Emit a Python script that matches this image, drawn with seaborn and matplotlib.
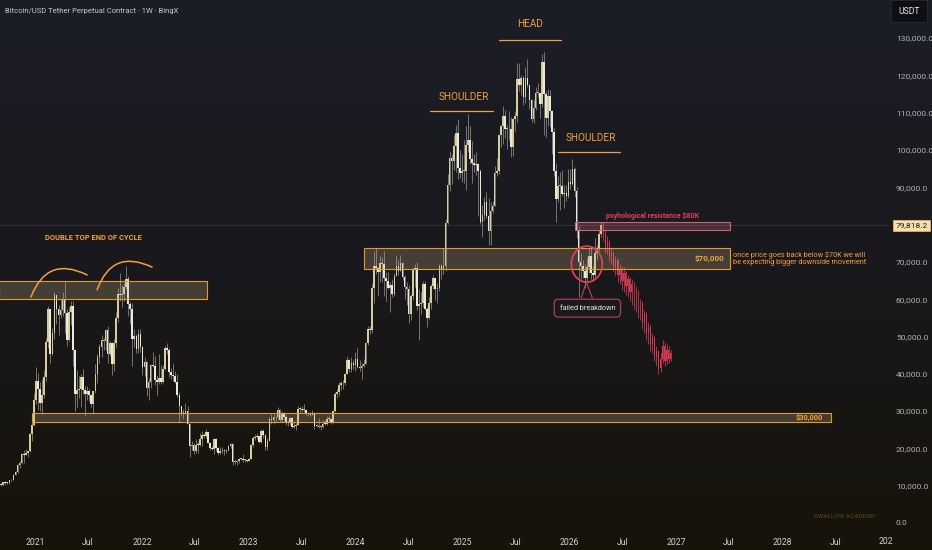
import numpy as np
import pandas as pd
import matplotlib
matplotlib.use("Agg")
import matplotlib.pyplot as plt
import matplotlib.dates as mdates
import matplotlib.transforms as mtransforms
from matplotlib.patches import Rectangle, Ellipse
from matplotlib.colors import LinearSegmentedColormap
from matplotlib.ticker import FuncFormatter
import seaborn as sns

# ──────────────────────────────────────────────
# DATA — weekly BTCUSDT candles, values in thousand USDT
# ──────────────────────────────────────────────

first_week = "2020-09-07"
first_open = 10.25

close_2020 = [10.3, 11.0, 10.7, 10.7, 11.4, 11.5, 13.0, 13.8, 15.5, 16.0, 18.4, 18.2, 18.8, 19.2, 23.8, 26.3, 33.0]
high_2020 = [10.6, 11.1, 11.2, 10.9, 11.5, 11.7, 13.2, 14.0, 15.9, 16.5, 18.8, 19.5, 19.9, 19.4, 24.2, 28.4, 34.8]
low_2020 = [9.9, 10.2, 10.1, 10.5, 10.5, 11.2, 11.4, 12.8, 13.3, 14.8, 15.8, 16.2, 18.1, 17.6, 19.0, 22.0, 26.0]

close_2021 = [38.2, 36.0, 32.3, 34.3, 39.2, 48.6, 57.5, 45.2, 50.9, 61.2, 57.4, 55.8, 57.1, 60.0, 56.2, 49.1,
              56.6, 58.2, 46.4, 34.7, 35.7, 35.8, 39.1, 35.6, 34.7, 35.3, 34.3, 31.8, 35.4, 39.9, 44.6, 47.1,
              49.0, 48.9, 51.8, 45.2, 48.3, 42.7, 48.2, 54.9, 61.5, 61.0, 61.3, 63.3, 65.5, 58.6, 57.3, 49.4,
              50.1, 46.7, 50.8, 47.3]
high_2021 = [41.9, 40.1, 37.8, 38.6, 40.9, 49.7, 58.3, 57.5, 52.4, 61.8, 61.2, 58.4, 60.2, 61.8, 64.9, 57.5,
             57.9, 59.6, 59.5, 46.6, 40.9, 39.5, 39.9, 41.3, 36.7, 36.6, 35.9, 34.6, 35.5, 42.6, 45.3, 48.1,
             50.5, 49.6, 51.9, 52.9, 48.8, 48.4, 49.3, 56.5, 62.9, 67.0, 63.7, 64.3, 69.0, 66.3, 59.3, 59.1,
             51.9, 50.7, 51.9, 52.1]
low_2021 = [32.0, 30.3, 30.1, 29.3, 33.4, 38.0, 47.0, 43.0, 45.0, 49.3, 53.3, 50.4, 54.9, 55.5, 50.9, 47.5,
            48.8, 53.0, 42.0, 30.0, 31.0, 33.4, 31.1, 34.7, 28.8, 33.0, 32.7, 31.1, 29.3, 34.9, 37.5, 42.8,
            44.4, 46.4, 46.5, 42.8, 44.7, 39.6, 40.8, 47.1, 53.9, 59.6, 58.0, 59.4, 62.8, 55.6, 53.3, 42.0,
            47.3, 45.6, 45.6, 45.8]

close_2022 = [41.9, 43.1, 36.3, 37.9, 42.4, 42.2, 38.4, 37.7, 38.8, 37.8, 41.3, 46.8, 46.4, 40.4, 39.7, 39.5,
              37.7, 34.3, 31.3, 29.4, 29.5, 29.9, 26.6, 20.6, 21.0, 19.3, 20.9, 20.8, 22.6, 23.6, 23.2, 24.4,
              21.5, 20.1, 19.8, 22.4, 20.1, 18.8, 19.3, 19.4, 19.2, 19.6, 20.6, 21.3, 16.3, 16.3, 16.5, 17.1,
              17.1, 16.8, 16.8, 16.6]
high_2022 = [47.5, 44.4, 43.5, 38.9, 42.7, 45.8, 44.7, 39.8, 45.4, 42.3, 42.3, 47.5, 48.2, 47.0, 41.5, 42.9,
             40.8, 40.0, 35.0, 31.4, 30.6, 32.3, 31.3, 26.9, 22.0, 21.5, 22.4, 21.6, 24.2, 24.6, 24.2, 25.2,
             24.4, 21.8, 20.6, 22.8, 22.7, 20.4, 20.4, 20.4, 19.9, 19.7, 21.0, 21.5, 21.4, 17.2, 17.0, 17.4,
             17.4, 18.4, 17.1, 16.9]
low_2022 = [39.6, 39.5, 34.0, 33.0, 36.3, 41.7, 37.0, 34.3, 37.2, 37.2, 37.6, 40.9, 45.2, 39.2, 38.5, 38.2,
            37.6, 33.7, 26.7, 28.6, 28.0, 29.2, 26.5, 17.6, 19.6, 18.6, 18.9, 18.9, 20.7, 20.7, 22.7, 22.7,
            21.4, 19.6, 19.5, 18.5, 19.3, 18.1, 18.5, 18.9, 18.2, 18.9, 19.2, 20.1, 15.6, 15.8, 15.5, 16.1,
            16.8, 16.3, 16.4, 16.4]

close_2023 = [17.2, 20.9, 22.7, 23.0, 23.3, 21.8, 24.6, 23.5, 20.5, 22.0, 28.0, 27.5, 28.5, 28.3, 30.3, 27.6,
              29.2, 28.4, 26.9, 26.7, 28.1, 25.8, 25.9, 26.3, 30.5, 30.6, 30.2, 30.3, 29.2, 29.3, 29.0, 29.3,
              26.1, 26.0, 25.8, 25.8, 26.5, 26.5, 27.9, 27.9, 27.0, 30.0, 34.5, 35.0, 37.1, 37.4, 37.5, 39.9,
              43.8, 41.3, 43.0, 42.3]
high_2023 = [17.4, 21.3, 23.3, 23.9, 24.2, 23.4, 25.2, 25.2, 23.9, 22.8, 28.5, 29.2, 29.2, 28.8, 31.0, 30.5,
             30.0, 29.8, 29.0, 27.6, 28.4, 28.4, 27.1, 26.8, 31.4, 31.0, 31.5, 31.8, 30.4, 29.7, 29.7, 30.2,
             29.7, 26.8, 28.1, 26.4, 27.5, 27.5, 28.6, 28.6, 28.0, 30.4, 35.2, 35.9, 37.9, 38.0, 38.4, 40.2,
             44.7, 44.0, 44.4, 43.8]
low_2023 = [16.5, 17.2, 20.4, 22.3, 22.6, 21.5, 21.4, 22.8, 19.6, 19.6, 21.9, 26.6, 26.5, 27.2, 27.9, 27.1,
            27.0, 27.7, 26.2, 26.1, 26.3, 25.4, 25.4, 24.8, 26.3, 29.5, 29.8, 29.7, 29.0, 28.8, 28.6, 29.0,
            25.2, 25.8, 25.4, 24.9, 25.6, 26.4, 26.2, 27.2, 26.6, 26.9, 29.8, 33.4, 34.1, 35.6, 36.0, 37.0,
            39.9, 40.5, 40.6, 41.4]

close_2024 = [43.9, 41.7, 41.6, 42.0, 42.6, 48.3, 52.1, 51.7, 63.1, 68.9, 68.4, 67.2, 69.6, 69.4, 65.7, 64.9,
              63.1, 63.9, 61.5, 66.3, 69.0, 67.5, 69.6, 66.0, 63.2, 62.8, 55.9, 60.8, 68.2, 68.3, 58.1, 58.7,
              59.0, 64.2, 57.3, 54.9, 59.1, 63.6, 65.6, 62.8, 62.9, 69.0, 68.0, 68.8, 80.4, 90.5, 97.9, 97.0,
              101.1, 104.5, 95.2, 93.7, 94.5]
high_2024 = [45.9, 47.0, 43.6, 42.8, 43.9, 48.6, 52.8, 52.9, 64.0, 72.8, 73.8, 68.5, 71.6, 71.3, 72.8, 67.2,
             67.2, 64.7, 65.5, 67.0, 71.9, 70.6, 71.9, 70.0, 66.5, 64.5, 63.8, 61.4, 68.4, 69.4, 70.0, 62.7,
             61.8, 65.0, 64.9, 58.0, 60.6, 64.1, 66.5, 65.7, 64.4, 69.4, 69.5, 73.6, 81.5, 93.5, 99.6, 98.9,
             104.0, 106.6, 108.3, 99.9, 98.9]
low_2024 = [40.8, 41.5, 40.7, 38.5, 41.7, 42.6, 47.7, 50.6, 50.9, 59.0, 66.8, 60.8, 64.5, 64.5, 60.8, 59.6,
            62.8, 56.6, 60.6, 60.8, 66.1, 66.6, 67.5, 65.1, 60.0, 58.4, 53.5, 54.3, 59.7, 63.4, 57.1, 49.1,
            56.1, 58.0, 57.2, 52.6, 54.6, 57.5, 62.7, 59.8, 58.9, 62.1, 65.3, 66.8, 67.5, 80.2, 89.0, 90.8,
            94.6, 94.2, 92.2, 92.5, 91.3]

close_2025 = [94.5, 101.3, 102.6, 97.7, 96.5, 96.1, 96.3, 94.3, 80.7, 82.6, 86.1, 82.3, 78.3, 83.7, 85.1, 93.7,
              94.3, 104.0, 106.5, 109.0, 105.6, 105.7, 105.5, 100.9, 108.4, 109.2, 119.1, 117.3, 119.4, 114.2,
              119.3, 117.5, 113.5, 108.3, 111.2, 115.3, 115.2, 112.2, 123.5, 115.0, 108.7, 114.5, 110.5, 104.7,
              94.4, 86.8, 90.4, 90.4, 88.2, 88.5, 87.8, 91.5]
high_2025 = [102.7, 106.4, 109.6, 106.4, 102.5, 98.8, 99.5, 96.5, 95.0, 85.3, 87.4, 88.8, 87.0, 86.1, 86.4, 95.7,
             97.9, 104.1, 106.7, 111.9, 110.7, 106.8, 110.4, 108.9, 108.5, 110.5, 123.2, 123.2, 120.2, 119.8,
             122.3, 124.5, 117.6, 113.6, 113.4, 116.8, 117.9, 115.4, 125.7, 126.2, 115.9, 116.4, 116.0, 110.8,
             106.0, 96.6, 93.1, 94.2, 94.6, 90.6, 90.5, 94.8]
low_2025 = [91.2, 89.2, 99.5, 96.2, 91.2, 94.1, 93.4, 82.2, 80.1, 76.6, 81.2, 81.7, 74.6, 74.5, 83.1, 85.1,
            92.9, 93.5, 100.7, 101.5, 103.1, 100.4, 102.6, 98.2, 98.3, 105.1, 107.5, 115.7, 114.7, 112.0,
            112.7, 116.8, 110.9, 107.5, 107.3, 110.6, 114.3, 108.6, 111.6, 104.0, 103.5, 106.3, 106.1, 98.9,
            93.0, 80.6, 86.1, 84.0, 87.6, 84.4, 86.4, 87.0]

close_2026 = [91.0, 95.0, 89.0, 78.5, 70.0, 68.8, 67.5, 65.8, 68.5, 71.5, 67.0, 66.5, 72.5, 73.5, 77.5, 79.8182]
high_2026 = [94.8, 97.5, 95.5, 90.0, 79.5, 72.5, 70.5, 69.5, 71.0, 73.5, 74.0, 69.0, 76.5, 74.5, 78.5, 80.6]
low_2026 = [89.5, 90.5, 87.5, 76.5, 60.5, 65.5, 65.8, 63.0, 64.5, 67.0, 65.5, 64.8, 66.0, 70.5, 72.8, 76.8]

# projected path drawn in red after the last real candle
proj_close = [77.5, 74.0, 75.5, 71.5, 72.5, 69.0, 70.5, 66.5, 68.0, 65.0, 67.0, 63.5, 65.5, 62.0, 64.0, 60.5,
              62.0, 57.5, 59.0, 54.0, 56.0, 51.0, 52.5, 48.0, 49.5, 44.5, 46.0, 41.5, 44.0, 47.5, 43.5, 46.5,
              44.0, 45.5]
proj_high = [80.8, 78.5, 77.0, 76.0, 74.0, 73.0, 71.5, 71.0, 69.5, 69.0, 68.5, 67.5, 66.5, 66.0, 65.5, 64.5,
             63.5, 62.5, 60.0, 59.5, 57.0, 56.5, 54.0, 53.0, 51.0, 50.0, 47.5, 46.5, 45.5, 49.0, 48.5, 48.0,
             47.5, 46.5]
proj_low = [75.5, 72.5, 72.0, 70.0, 69.5, 67.5, 66.5, 64.5, 64.0, 62.5, 62.0, 61.0, 60.5, 59.5, 58.5, 57.5,
            56.5, 55.0, 54.5, 52.0, 51.0, 49.0, 48.0, 46.0, 45.5, 43.5, 42.0, 40.0, 40.5, 43.0, 42.0, 42.5,
            43.0, 43.5]

price_ticks = list(range(0, 130001, 10000))

# ──────────────────────────────────────────────
# BUILD FRAMES
# ──────────────────────────────────────────────

closes = np.array(close_2020 + close_2021 + close_2022 + close_2023 + close_2024 + close_2025 + close_2026) * 1000
highs = np.array(high_2020 + high_2021 + high_2022 + high_2023 + high_2024 + high_2025 + high_2026) * 1000
lows = np.array(low_2020 + low_2021 + low_2022 + low_2023 + low_2024 + low_2025 + low_2026) * 1000
opens = np.concatenate([[first_open * 1000], closes[:-1]])
weeks = pd.date_range(first_week, periods=len(closes), freq="7D")
btc = pd.DataFrame({"date": weeks, "open": opens, "high": highs, "low": lows, "close": closes})

p_close = np.array(proj_close) * 1000
p_open = np.concatenate([[closes[-1]], p_close[:-1]])
p_weeks = pd.date_range(weeks[-1] + pd.Timedelta(days=7), periods=len(p_close), freq="7D")
proj = pd.DataFrame({"date": p_weeks, "open": p_open, "high": np.array(proj_high) * 1000,
                     "low": np.array(proj_low) * 1000, "close": p_close})


def d(s):
    return mdates.date2num(pd.Timestamp(s))


# ──────────────────────────────────────────────
# STYLE
# ──────────────────────────────────────────────

sns.set_theme(style="dark", rc={"axes.facecolor": "none", "axes.grid": False,
                                "figure.facecolor": "#18171c"})
plt.rcParams["font.family"] = ["Roboto", "DejaVu Sans"]

ORANGE = "#f2a23c"
BOX_EDGE = "#e39a2e"
BOX_FILL = (0.80, 0.70, 0.52, 0.25)
RED = "#d43c55"
UP_COL = "#d8cc9c"
DOWN_COL = "#ebe8dc"
WICK_COL = "#8e8d88"

fig = plt.figure(figsize=(9.32, 5.5), dpi=100)

# gradient background (navy top -> brownish bottom)
bg = fig.add_axes([0, 0, 1, 1], zorder=0)
grad = np.linspace(0, 1, 256).reshape(-1, 1)
bg_cmap = LinearSegmentedColormap.from_list("bg", ["#1c1e27", "#19181c", "#161309"])
bg.imshow(grad, aspect="auto", cmap=bg_cmap, extent=[0, 1, 0, 1], origin="upper")
bg.axis("off")

ax = fig.add_axes([0, 20 / 550, 889 / 932, 530 / 550], zorder=1)
ax.patch.set_alpha(0)
sns.despine(ax=ax, left=True, bottom=True)


def draw_candles(frame, up_col, down_col, wick_col, width=5.6, z=2):
    x = mdates.date2num(frame["date"])
    up = frame["close"] >= frame["open"]
    ax.vlines(x, frame["low"], frame["high"], color=wick_col, lw=0.55, zorder=z)
    body = (frame["close"] - frame["open"]).abs().clip(lower=250)
    bottom = frame[["open", "close"]].min(axis=1)
    ax.bar(x, body, bottom=bottom, width=width, color=np.where(up, up_col, down_col), lw=0, zorder=z + 0.1)


draw_candles(btc, UP_COL, DOWN_COL, WICK_COL)
draw_candles(proj, RED, RED, RED, width=2.8)

# current price line
ax.axhline(closes[-1], color="white", alpha=0.12, lw=0.6, zorder=1)

# ── zones ────────────────────────────────────
zones = [
    ("2020-09-01", "2022-08-13", 60100, 64900, BOX_FILL, BOX_EDGE),
    ("2020-12-22", "2028-06-13", 27100, 29500, BOX_FILL, BOX_EDGE),
    ("2024-01-30", "2027-07-06", 68100, 73700, BOX_FILL, BOX_EDGE),
    ("2026-01-22", "2027-07-06", 78600, 80700, (0.78, 0.39, 0.47, 0.30), "#c86478"),
]
for start, end, lo, hi, fc, ec in zones:
    ax.add_patch(Rectangle((d(start), lo), d(end) - d(start), hi - lo,
                           facecolor=fc, edgecolor=ec, lw=0.8, zorder=4))

ax.text(d("2027-04-26"), 70900, "$70,000", ha="center", va="center", fontsize=5.8,
        fontweight="bold", color=ORANGE, zorder=5)
ax.text(d("2028-04-02"), 28300, "$30,000", ha="center", va="center", fontsize=5.3,
        fontweight="bold", color=ORANGE, zorder=5)
ax.text(d("2027-07-16"), 70900,
        "once price goes back below $70K we will\nbe expecting bigger downside movement",
        ha="left", va="center", fontsize=5.2, color=ORANGE, linespacing=1.1, zorder=5)
ax.text(d("2026-10-12"), 82400, "psyhological resistance $80K", ha="center", va="center",
        fontsize=5.0, fontweight="bold", color="#e0405a", zorder=5)

# ── head & shoulders ─────────────────────────
labels = [("HEAD", "2025-08-20", 133800, "2025-05-06", "2025-12-05", 129500),
          ("SHOULDER", "2025-01-06", 114300, "2024-09-12", "2025-04-16", 110500),
          ("SHOULDER", "2026-03-14", 103300, "2025-11-24", "2026-06-25", 99500)]
for txt, xc, yt, x0, x1, yl in labels:
    ax.text(d(xc), yt, txt, ha="center", va="center", fontsize=7.2, color=ORANGE, zorder=5)
    ax.plot([d(x0), d(x1)], [yl, yl], color=ORANGE, lw=0.9, zorder=5)

# ── double top ───────────────────────────────
ax.text(d("2021-02-04"), 76400, "DOUBLE TOP END OF CYCLE", ha="left", va="center",
        fontsize=5.4, fontweight="bold", color=ORANGE, zorder=5)
for a, b in [(("2020-12-18", 60600), ("2021-06-28", 66500)),
             (("2021-08-01", 62500), ("2022-02-05", 68600))]:
    ax.annotate("", xy=(d(b[0]), b[1]), xytext=(d(a[0]), a[1]),
                arrowprops=dict(arrowstyle="-", color=ORANGE, lw=1.1, shrinkA=0, shrinkB=0,
                                connectionstyle="arc3,rad=-0.55"), zorder=5)

# ── failed breakdown ─────────────────────────
ax.add_patch(Ellipse((d("2026-03-02"), 69400), width=106, height=9650, fill=False,
                     edgecolor="#e0404f", lw=1.3, zorder=6))
ax.plot([d("2026-02-11"), d("2026-02-28"), d("2026-03-21")], [60300, 64600, 60300],
        color="#b84558", lw=0.8, zorder=6)
ax.text(d("2026-03-04"), 57600, "failed breakdown", ha="center", va="center", fontsize=5.2,
        color="#e6e6e6", zorder=7,
        bbox=dict(boxstyle="round,pad=0.75,rounding_size=0.6", fc="#1b191d", ec="#b84558", lw=0.8))

# ── axes ─────────────────────────────────────
ax.set_ylim(-1877, 140214)
ax.set_xlim(d("2020-09-03"), d("2028-12-29"))
ax.yaxis.tick_right()
ax.set_yticks(price_ticks)
ax.yaxis.set_major_formatter(FuncFormatter(lambda v, _: f"{v:,.1f}"))
ax.tick_params(axis="y", length=0, pad=5, labelsize=6, labelcolor="#b3b3b3")
ax.xaxis_date()
ax.xaxis.set_major_locator(mdates.MonthLocator(bymonth=[1, 7]))
ax.xaxis.set_major_formatter(FuncFormatter(
    lambda v, _: str(mdates.num2date(v).year) if mdates.num2date(v).month == 1 else "Jul"))
ax.tick_params(axis="x", length=0, pad=6, labelsize=6.2, labelcolor="#d2d2d2")
ax.set_xlabel("")
ax.set_ylabel("")

# last price tag
tag_tf = mtransforms.blended_transform_factory(ax.transAxes, ax.transData)
ax.text(1.0075, closes[-1], f"{closes[-1]:,.1f}", transform=tag_tf, ha="left", va="center",
        fontsize=6, color="#1a1a1a", zorder=8,
        bbox=dict(boxstyle="square,pad=0.3", fc="#f7dfb0", ec="#e8b060", lw=0.6))

fig.text(886 / 932, 1 - 541 / 550, "202", ha="center", va="center", fontsize=6.2, color="#d2d2d2")
fig.text(5 / 932, 1 - 11 / 550, "Bitcoin/USD Tether Perpetual Contract · 1W · BingX",
         ha="left", va="center", fontsize=5.5, color="#c8c8c8")
fig.text(909 / 932, 1 - 11 / 550, "USDT", ha="center", va="center", fontsize=6.2, color="#e6e6e6",
         bbox=dict(boxstyle="square,pad=0.8", fc="#0e0f13", ec="#2a2c33", lw=0.6))
fig.text(845 / 932, 1 - 516 / 550, "SWALLOW ACADEMY", ha="center", va="center", fontsize=4.6,
         color="#5c4a1c")

fig.savefig("out.png", dpi=100)
